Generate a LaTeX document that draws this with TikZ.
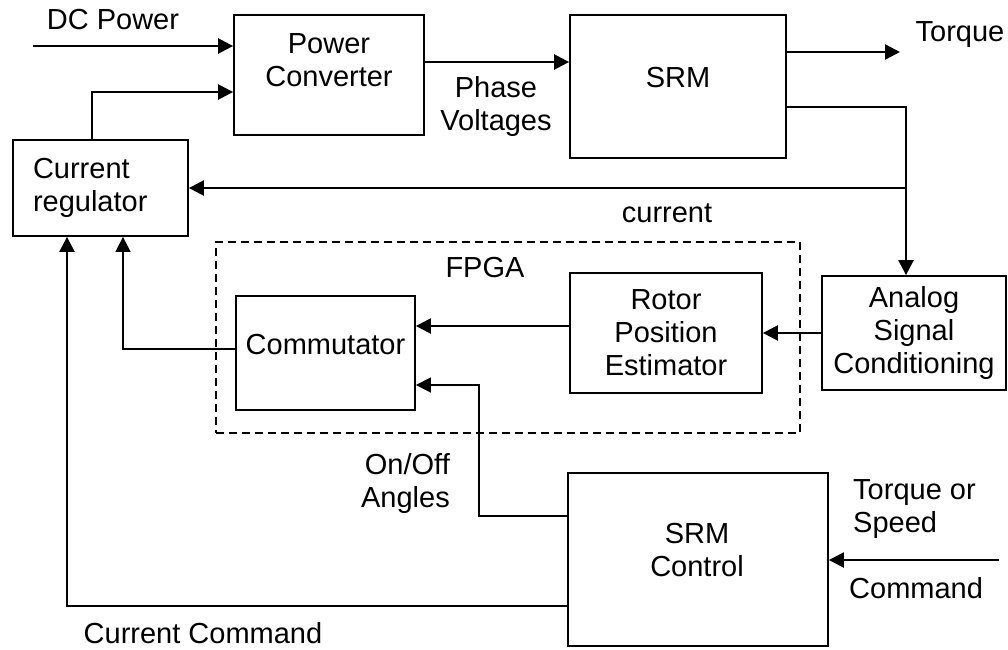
\documentclass[tikz,border=0pt]{standalone}
\usepackage{fontspec}
\setmainfont{Liberation Sans}
\usetikzlibrary{arrows.meta}
\begin{document}
\begin{tikzpicture}[x=1pt,y=-1pt,
  font=\fontsize{29}{33}\selectfont,
  boxed/.style={draw, line width=1.8pt, inner sep=0pt},
  txt/.style={inner sep=0pt, align=center},
  arr/.style={line width=2.4pt, -{Triangle[length=15pt,width=15pt]}},
  thinarr/.style={line width=1.6pt, -{Triangle[length=15pt,width=15pt]}},
  fpgabox/.style={draw, line width=1.4pt, dash pattern=on 8pt off 5pt, inner sep=0pt},
]
\useasboundingbox (0,0) rectangle (1008,649);

% FPGA region
\node[fpgabox, minimum width=584pt, minimum height=191pt] (fpga) at (508,337.5) {};
\node[txt] (fpgatxt) at (485,268) {FPGA};

% blocks
\node[boxed, minimum width=190pt, minimum height=120pt] (pc) at (329,75) {};
\node[txt] (pctxt) at (329,60) {Power\\Converter};
\node[boxed, minimum width=216pt, minimum height=143pt] (srm) at (678,86.5) {};
\node[txt] (srmtxt) at (678,78) {SRM};
\node[boxed, minimum width=175pt, minimum height=96pt, text width=135pt, inner xsep=20pt, align=left] (cr) at (100.5,188) {Current\\regulator};
\node[boxed, minimum width=179pt, minimum height=114pt] (comm) at (325.5,353) {};
\node[txt] (commtxt) at (325.5,345) {Commutator};
\node[boxed, minimum width=192pt, minimum height=120pt, align=center] (rpe) at (666,333) {Rotor\\Position\\Estimator};
\node[boxed, minimum width=184pt, minimum height=114pt, align=center] (asc) at (914,333) {Analog\\Signal\\Conditioning};
\node[boxed, minimum width=260pt, minimum height=173pt] (srmc) at (698,559.5) {};
\node[txt] (srmctxt) at (697,550) {SRM\\Control};

% labels
\node[txt] (dclbl) at (113,20) {DC Power};
\node[txt] (tqlbl) at (960,35) {Torque};
\node[txt] (pvlbl) at (496,106) {Phase\\Voltages};
\node[txt] (curlbl) at (667,213) {current};
\node[txt, align=right, anchor=east] (onofflbl) at (450,483) {On/Off\\Angles};
\node[txt, align=left, anchor=west] (tslbl) at (853,509) {Torque or\\Speed};
\node[txt, anchor=west] (cmdlbl) at (849,588) {Command};
\node[txt] (cclbl) at (203,633) {Current Command};

% free ends and junctions
\coordinate (dcin) at (33,46);
\coordinate (tq) at (900,52);
\coordinate (cmd) at (999,560);
\coordinate (jn) at ([xshift=-8pt]asc.north);
\coordinate (oc) at ([yshift=-32pt]comm.east);

% connectors
\draw[arr] (dcin) -- (dcin -| pc.west);
\draw[arr] ([xshift=-8.5pt]cr.north) |- ([yshift=-17pt]pc.west);
\draw[arr] ([yshift=13pt]pc.east) -- ([yshift=13pt]pc.east -| srm.west);
\draw[arr] ([yshift=34.5pt]srm.east) -- (tq);
\draw[arr] ([yshift=-20.5pt]srm.east) -| (jn);
\draw[arr] (jn |- cr.east) -- (cr.east);
\draw[arr] (asc.west) -- (rpe.east);
\draw[arr] ([yshift=7pt]rpe.west) -- ([yshift=7pt]rpe.west -| comm.east);
\draw[thinarr] ([yshift=4pt]comm.west) -| ([xshift=22.5pt]cr.south);
\draw[thinarr] ([yshift=43.5pt]srmc.west) -| ([xshift=63pt]oc) -- (oc);
\draw[arr] ([yshift=-46.5pt]srmc.west) -| ([xshift=-33.5pt]cr.south);
\draw[arr] (cmd) -- (cmd -| srmc.east);
\end{tikzpicture}
\end{document}
